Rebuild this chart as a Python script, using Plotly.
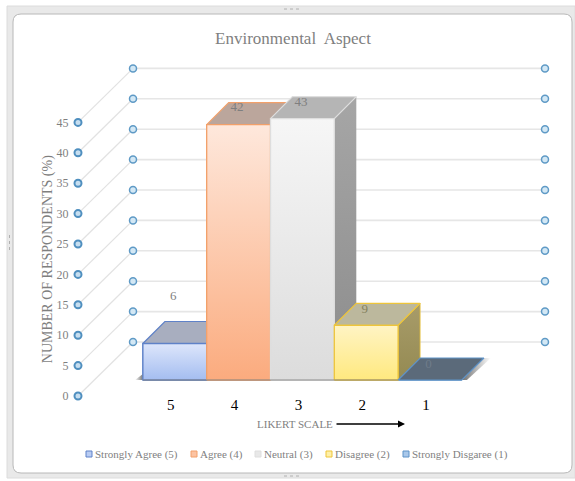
import plotly.graph_objects as go

W, H = 575, 481

# Chart data
categories = ["5", "4", "3", "2", "1"]
values = [6, 42, 43, 9, 0]
series_names = ["Strongly Agree (5)", "Agree (4)", "Neutral (3)", "Disagree (2)", "Strongly Disgaree (1)"]
y_ticks = [0, 5, 10, 15, 20, 25, 30, 35, 40, 45]
label_lift = [47, 17, 16, 16, 15]  # pixels between a bar's front top edge and its value label

# Face colours per series
front_top = ["#dde6fb", "#fee8dc", "#f6f6f6", "#fff4c4", "#5b6a7a"]
front_bot = ["#a4bdf0", "#fbab7e", "#dcdcdc", "#ffe97f", "#5b6a7a"]
top_face = ["#a8aebf", "#bba69c", "#b5b5b5", "#bcb89d", "#5b6a7a"]
side_top = ["#9a9aa8", "#a89080", "#a6a6a6", "#a89c6a", "#5b6a7a"]
side_bot = ["#80808f", "#907060", "#8c8c8c", "#948a52", "#5b6a7a"]
edge = ["#5f82c8", "#f2a06a", "#dedede", "#eec53a", "#5f93c8"]
swatch = ["#b9ccf3", "#fcc3a2", "#e8e8e8", "#fff0a8", "#a9c8ea"]

# Pixel scale of the value and category axes
PX_PER_UNIT = 6.08
PX_PER_CAT = 63.8
FIRST_CAT_PX = 174.8
BASE_PX = 380

cat_range = [-FIRST_CAT_PX / PX_PER_CAT, (W - FIRST_CAT_PX) / PX_PER_CAT]
val_range = [(BASE_PX - H) / PX_PER_UNIT, BASE_PX / PX_PER_UNIT]

# Oblique projection offsets, in axis units
BAR_DX = 22 / PX_PER_CAT
BAR_DY = 22 / PX_PER_UNIT
FRONT_X = (78 - FIRST_CAT_PX) / PX_PER_CAT
FRONT_DY = (BASE_PX - 396) / PX_PER_UNIT
BACK_X = (133 - FIRST_CAT_PX) / PX_PER_CAT
BACK_DY = (BASE_PX - 342) / PX_PER_UNIT
RIGHT_X = (545 - FIRST_CAT_PX) / PX_PER_CAT


def fx(px):
    return px / W


def fy(px):
    return 1 - px / H


fig = go.Figure()

# Back wall and side wall gridlines
wall_x, wall_y, back_x, back_y = [], [], [], []
for v in y_ticks:
    wall_x += [FRONT_X, BACK_X, None]
    wall_y += [v + FRONT_DY, v + BACK_DY, None]
    back_x += [BACK_X, RIGHT_X, None]
    back_y += [v + BACK_DY, v + BACK_DY, None]
fig.add_trace(go.Scatter(x=wall_x, y=wall_y, mode="lines", line=dict(color="#e2e2e2", width=1.2),
                         hoverinfo="skip", showlegend=False))
fig.add_trace(go.Scatter(x=back_x, y=back_y, mode="lines", line=dict(color="#e6e6e6", width=1.6),
                         hoverinfo="skip", showlegend=False))

wall_marker = dict(symbol="circle", size=7, color="#d3e8f5", line=dict(color="#5f9ac6", width=1.5))
for col in (BACK_X, RIGHT_X):
    fig.add_trace(go.Scatter(x=[col] * len(y_ticks), y=[v + BACK_DY for v in y_ticks], mode="markers",
                             marker=wall_marker, hoverinfo="skip", showlegend=False))

# Base bars carrying the values
for i, name in enumerate(series_names):
    fig.add_trace(go.Bar(x=[i], y=[values[i]], width=1, name=name, showlegend=False,
                         marker=dict(color=front_bot[i], line=dict(color=edge[i], width=1.3))))

# Soft floor shadows at both ends of the row
fig.add_trace(go.Scatter(
    x=[-0.5, -0.5 - 8 / PX_PER_CAT, -0.5], y=[0, 0, 6 / PX_PER_UNIT], mode="lines", fill="toself",
    line=dict(width=0), fillgradient=dict(type="horizontal", colorscale=[[0, "#ffffff"], [1, "#777777"]]),
    hoverinfo="skip", showlegend=False))
fig.add_trace(go.Scatter(
    x=[4.5, 4.5 + BAR_DX, 4.5 + BAR_DX + 7 / PX_PER_CAT, 4.5 + 5 / PX_PER_CAT],
    y=[0, BAR_DY, BAR_DY, 0], mode="lines", fill="toself",
    line=dict(width=0), fillgradient=dict(type="horizontal", colorscale=[[0, "#707070"], [1, "#ffffff"]]),
    hoverinfo="skip", showlegend=False))

# Extruded faces for each bar, drawn from left to right
for i, v in enumerate(values):
    l, r = i - 0.5, i + 0.5
    if v > 0:
        fig.add_trace(go.Scatter(
            x=[r, r + BAR_DX, r + BAR_DX, r, r], y=[0, BAR_DY, v + BAR_DY, v, 0],
            mode="lines", fill="toself", line=dict(color=edge[i], width=0.8 if i == 3 else 0),
            fillgradient=dict(type="vertical", colorscale=[[0, side_bot[i]], [1, side_top[i]]]),
            hoverinfo="skip", showlegend=False))
    fig.add_trace(go.Scatter(
        x=[l, r, r + BAR_DX, l + BAR_DX, l], y=[v, v, v + BAR_DY, v + BAR_DY, v],
        mode="lines", fill="toself", fillcolor=top_face[i], line=dict(color=edge[i], width=1.2),
        hoverinfo="skip", showlegend=False))
    if v > 0:
        fig.add_trace(go.Scatter(
            x=[l, r, r, l, l], y=[0, 0, v, v, 0],
            mode="lines", fill="toself", line=dict(color=edge[i], width=1.3),
            fillgradient=dict(type="vertical", colorscale=[[0, front_bot[i]], [1, front_top[i]]]),
            hoverinfo="skip", showlegend=False))

# Floor edge under the bars
fig.add_trace(go.Scatter(x=[-0.5, 3.5], y=[0, 0], mode="lines", line=dict(color="#8a8a8a", width=1.2),
                         hoverinfo="skip", showlegend=False))

# Value labels
fig.add_trace(go.Scatter(
    x=[i - 1.5 / PX_PER_CAT for i in range(len(values))],
    y=[v + lift / PX_PER_UNIT for v, lift in zip(values, label_lift)],
    text=[str(v) for v in values], mode="text", textposition="middle center",
    textfont=dict(family="Liberation Serif", size=13, color=["#7f7f7f", "#7f7f7f", "#7f7f7f", "#85825f", "#6f7c8a"]),
    hoverinfo="skip", showlegend=False))

# Front value axis with its marker column
fig.add_trace(go.Scatter(x=[0] * len(y_ticks), y=y_ticks, xaxis="x2", yaxis="y2", mode="markers", cliponaxis=False,
                         marker=dict(symbol="circle", size=7, color="#c6def0", line=dict(color="#4f8fbf", width=2)),
                         hoverinfo="skip", showlegend=False))

serif = "Liberation Serif"
annotations = [
    dict(text="LIKERT SCALE", x=fx(295), y=fy(424), xref="paper", yref="paper", yanchor="middle", showarrow=False,
         font=dict(family=serif, size=11, color="#7f7f7f")),
    dict(text="", x=fx(405), y=fy(424), xref="paper", yref="paper", ax=-70, ay=0,
         showarrow=True, arrowhead=2, arrowsize=1, arrowwidth=1.4, arrowcolor="#000000"),
]
shapes = [
    dict(type="rect", xref="paper", yref="paper", layer="below", x0=fx(7), x1=1, y0=fy(478), y1=fy(6),
         fillcolor="#e9e9e9", line=dict(color="#dcdcdc", width=1)),
    dict(type="path", xref="paper", yref="paper", layer="below",
         path=f"M {fx(21)} {fy(14)} L {fx(564)} {fy(14)} Q {fx(572)} {fy(14)} {fx(572)} {fy(22)} "
              f"L {fx(572)} {fy(465)} Q {fx(572)} {fy(473)} {fx(564)} {fy(473)} "
              f"L {fx(21)} {fy(473)} Q {fx(13)} {fy(473)} {fx(13)} {fy(465)} "
              f"L {fx(13)} {fy(22)} Q {fx(13)} {fy(14)} {fx(21)} {fy(14)} Z",
         fillcolor="#ffffff", line=dict(color="#b8b8b8", width=1)),
    # Resize grips on the frame
    dict(type="line", xref="paper", yref="paper", layer="below", x0=fx(284), x1=fx(300), y0=fy(9), y1=fy(9),
         line=dict(color="#b0b0b0", width=1, dash="dot")),
    dict(type="line", xref="paper", yref="paper", layer="below", x0=fx(284), x1=fx(300), y0=fy(476), y1=fy(476),
         line=dict(color="#b0b0b0", width=1, dash="dot")),
    dict(type="line", xref="paper", yref="paper", layer="below", x0=fx(9.5), x1=fx(9.5), y0=fy(235), y1=fy(251),
         line=dict(color="#b0b0b0", width=1, dash="dot")),
]

# Series key along the bottom
key_px = [86, 191, 255, 326, 403]
for name, color, line, px in zip(series_names, swatch, edge, key_px):
    shapes.append(dict(type="rect", xref="paper", yref="paper", x0=fx(px), x1=fx(px + 6), y0=fy(457), y1=fy(451),
                       fillcolor=color, line=dict(color=line, width=1)))
    annotations.append(dict(text=name, x=fx(px + 7), y=fy(454), xref="paper", yref="paper", xanchor="left",
                            yanchor="middle", showarrow=False, font=dict(family=serif, size=11, color="#7f7f7f")))

fig.update_layout(
    width=W, height=H, margin=dict(l=0, r=0, t=0, b=0, pad=0, autoexpand=False),
    paper_bgcolor="#ffffff", plot_bgcolor="rgba(0,0,0,0)",
    showlegend=False, barmode="overlay",
    title=dict(text="Environmental  Aspect", x=293 / W, xanchor="center", y=fy(38), yanchor="middle",
               font=dict(family=serif, size=17, color="#7f7f7f")),
    xaxis=dict(range=cat_range, domain=[0, 1], anchor="free", position=fy(394), showgrid=False, zeroline=False,
               showline=False, tickmode="array", tickvals=list(range(5)), ticktext=categories, ticks="",
               ticklabelshift=-4, tickfont=dict(family=serif, size=15, color="#000000")),
    yaxis=dict(range=val_range, domain=[0, 1], visible=False),
    xaxis2=dict(range=[0, 1], domain=[fx(78), fx(90)], anchor="y2", visible=False),
    yaxis2=dict(range=[0, 45], domain=[fy(396), fy(122.4)], anchor="x2", showgrid=False, zeroline=False,
                showline=False, tickmode="array", tickvals=y_ticks, ticks="outside", ticklen=6, tickcolor="rgba(0,0,0,0)",
                tickfont=dict(family=serif, size=12, color="#7f7f7f"),
                title=dict(text="NUMBER OF RESPONDENTS (%)", standoff=0,
                           font=dict(family=serif, size=14, color="#7f7f7f"))),
    annotations=annotations, shapes=shapes,
)

fig.write_html("out.html", config=dict(displayModeBar=False))
